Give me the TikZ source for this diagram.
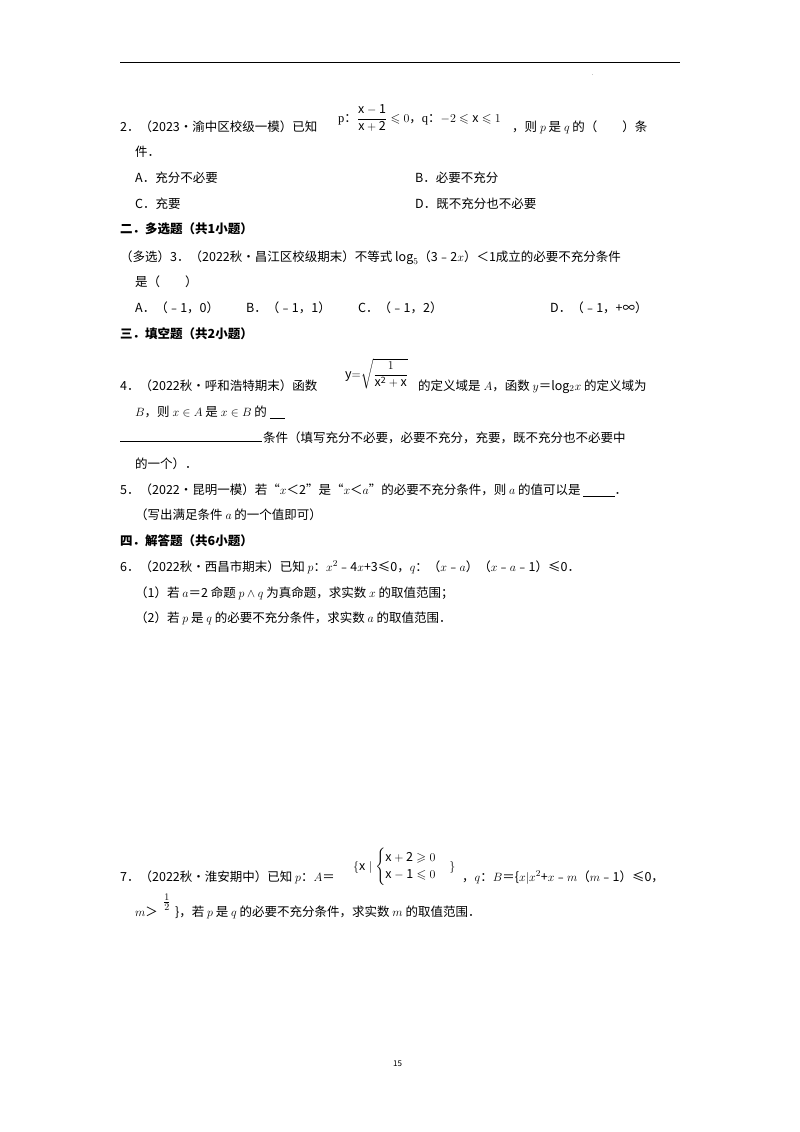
\documentclass[tikz,border=0pt]{standalone}
\usepackage{amsmath,amssymb}
\usepackage{fontspec}
\setmainfont{Noto Sans CJK SC}
\newfontfamily\lat{Liberation Serif}
\begin{document}
\begin{tikzpicture}[x=1pt,y=-1pt,
  t/.style={anchor=base west,inner sep=0pt,font=\fontsize{12.5}{14}\selectfont},
  h/.style={t,font=\fontsize{12.5}{14}\selectfont\bfseries}]
\useasboundingbox[fill=white] (0,0) rectangle (800,1132);
\draw[line width=1pt] (120,63) coordinate (r1) -- (680,63) coordinate (r2);
\node[t,font=\tiny] (dot) at (592,76) {.};
\node[t] (q2) at (120,131) {2．（2023•渝中区校级一模）已知};
\node[t] (q2f) at (338,122) {{\lat p}：$\dfrac{\mathrm{x-1}}{\mathrm{x+2}}\leqslant 0$，{\lat q}：$-2\leqslant \mathrm{x}\leqslant 1$};
\node[t] (q2b) at (512,131) {，则 $p$ 是 $q$ 的（\quad\quad）条};
\node[t] (q2c) at (135,156) {件．};
\node[t] (a2) at (135,182) {A．充分不必要};
\node[t] (b2) at (415,182) {B．必要不充分};
\node[t] (c2) at (135,208) {C．充要};
\node[t] (d2) at (415,208) {D．既不充分也不必要};
\node[h] (s2) at (120,233) {二．多选题（共1小题）};
\node[t] (q3) at (120,261) {（多选）3．（2022秋•昌江区校级期末）不等式 $\log_5$（3﹣2$x$）＜1成立的必要不充分条件};
\node[t] (q3b) at (135,286) {是（\quad\quad）};
\node[t] (a3) at (135,312) {A．（﹣1，0）};
\node[t] (b3) at (246,312) {B．（﹣1，1）};
\node[t] (c3) at (358,312) {C．（﹣1，2）};
\node[t] (d3) at (550,312) {D．（﹣1，+∞）};
\node[h] (s3) at (120,338) {三．填空题（共2小题）};
\node[t] (q4) at (120,390) {4．（2022秋•呼和浩特期末）函数};
\node[t] (q4f) at (345,378) {$\mathrm{y}{=}\sqrt{\dfrac{1}{\mathrm{x^2+x}}}$};
\node[t] (q4b) at (418,390) {的定义域是 $A$，函数 $y$＝log$_2x$ 的定义域为};
\node[t] (q4c) at (135,416) {$B$，则 $x\in A$ 是 $x\in B$ 的 \underline{\hspace{1.2em}}};
\draw (120,441) coordinate (u1) -- (262,441) coordinate (u2);
\node[t] (q4d) at (263,442) {条件（填写充分不必要，必要不充分，充要，既不充分也不必要中};
\node[t] (q4e) at (135,468) {的一个）．};
\node[t] (q5) at (120,494) {5．（2022•昆明一模）若“$x$＜2”是“$x$＜$a$”的必要不充分条件，则 $a$ 的值可以是 \underline{\hspace{2.5em}}．};
\node[t] (q5b) at (135,519) {（写出满足条件 $a$ 的一个值即可）};
\node[h] (s4) at (120,545) {四．解答题（共6小题）};
\node[t] (q6) at (120,571) {6．（2022秋•西昌市期末）已知 $p$：$x^2$﹣4$x$+3≤0，$q$：（$x$﹣$a$）（$x$﹣$a$﹣1）≤0．};
\node[t] (q61) at (135,597) {（1）若 $a$＝2 命题 $p\wedge q$ 为真命题，求实数 $x$ 的取值范围；};
\node[t] (q62) at (135,622) {（2）若 $p$ 是 $q$ 的必要不充分条件，求实数 $a$ 的取值范围．};
\node[t] (q7) at (120,881) {7．（2022秋•淮安期中）已知 $p$：$A$＝};
\node[t] (q7f) at (353,870) {$\{\mathrm{x}\mid\begin{cases}\mathrm{x+2}\geqslant 0\\ \mathrm{x-1}\leqslant 0\end{cases}\}$};
\node[t] (q7b) at (462,881) {，$q$：$B$＝\{$x|x^2$+$x$﹣$m$（$m$﹣1）≤0，};
\node[t] (q7m) at (135,916) {$m$＞};
\node[t,font=\fontsize{14}{16}\selectfont] (q7h) at (163,906) {$\genfrac{}{}{0.6pt}{}{1}{2}$};
\node[t] (q7c) at (175,916) {\}，若 $p$ 是 $q$ 的必要不充分条件，求实数 $m$ 的取值范围．};
\node[t,font=\fontsize{8}{10}\selectfont] (pg) at (393,1066) {15};
\end{tikzpicture}
\end{document}
